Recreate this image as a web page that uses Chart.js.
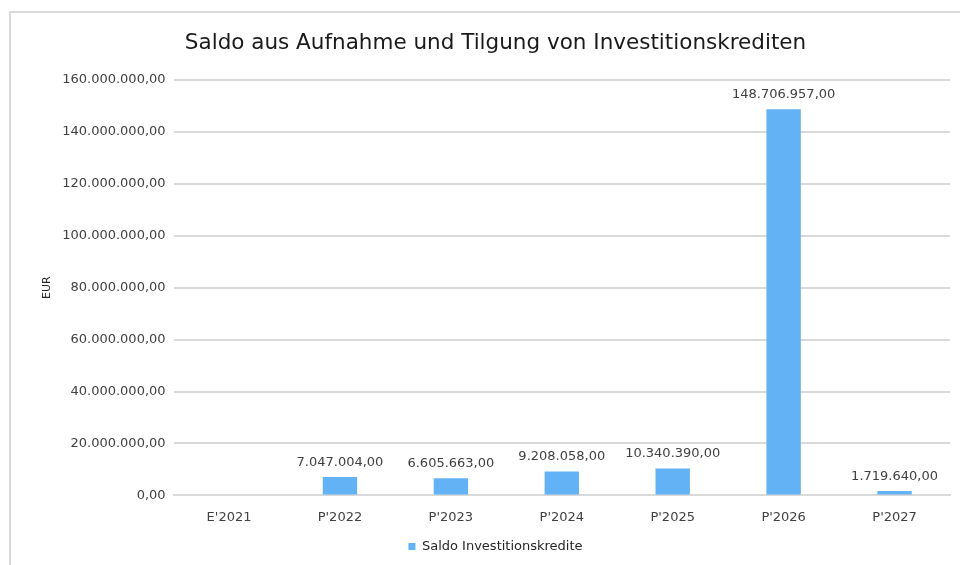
<!DOCTYPE html>
<html>
<head>
<meta charset="utf-8">
<script src="https://cdn.jsdelivr.net/npm/chart.js@4"></script>
<style>
  html, body { margin: 0; padding: 0; background: #fff; }
  #wrap { position: relative; width: 960px; height: 565px; }
  #frame { position: absolute; left: 9px; top: 11px; right: -5px; bottom: -5px; border-left: 2px solid #d9d9d9; border-top: 2px solid #d9d9d9; }
  #chart { position: absolute; left: 0; top: 0; }
</style>
</head>
<body>
<div id="wrap">
  <div id="frame"></div>
  <canvas id="chart" width="960" height="565"></canvas>
</div>
<script>
'use strict'
// Daten
const jahre = ["E'2021", "P'2022", "P'2023", "P'2024", "P'2025", "P'2026", "P'2027"]
const saldo = [null, 7047004, 6605663, 9208058, 10340390, 148706957, 1719640]
const yMax = 160000000
const yStep = 20000000

// Zahlen im deutschen Format
function formatEUR(v) {
    return v.toLocaleString('de-DE', { minimumFractionDigits: 2, maximumFractionDigits: 2 })
}

// eigenes Plugin fuer Werte ueber den Balken
const wertLabels = {
    id: 'wertLabels',
    afterDatasetsDraw(chart) {
        const ctx = chart.ctx
        const meta = chart.getDatasetMeta(0)
        ctx.save()
        ctx.font = '13px "DejaVu Sans"'
        ctx.fillStyle = '#404040'
        ctx.textAlign = 'center'
        ctx.textBaseline = 'bottom'
        meta.data.forEach((bar, i) => {
            const v = saldo[i]
            if (v === null) return
            ctx.fillText(formatEUR(v), bar.x, bar.y - 8)
        })
        ctx.restore()
    }
}

const ctx = document.getElementById('chart').getContext('2d')
const myChart = new Chart(ctx, {
    type: 'bar',
    data: {
        labels: jahre,
        datasets: [{
            label: 'Saldo Investitionskredite',
            data: saldo,
            backgroundColor: '#63b2f6',
            borderWidth: 0,
            categoryPercentage: 1,
            barPercentage: 0.31
        }]
    },
    options: {
        responsive: false,
        animation: false,
        layout: {
            padding: { left: 41, right: 10, top: 31, bottom: 2 }
        },
        plugins: {
            title: {
                display: true,
                text: 'Saldo aus Aufnahme und Tilgung von Investitionskrediten',
                color: '#1a1a1a',
                font: { family: '"DejaVu Sans"', size: 21.5, weight: 'normal' },
                padding: { top: 0, bottom: 23 }
            },
            legend: {
                position: 'bottom',
                labels: {
                    boxWidth: 7,
                    boxHeight: 7,
                    padding: 1,
                    color: '#262626',
                    font: { family: '"DejaVu Sans"', size: 13 }
                }
            },
            tooltip: { enabled: false }
        },
        scales: {
            x: {
                grid: { display: false, drawTicks: false },
                border: { display: true, color: '#d9d9d9', width: 2 },
                ticks: {
                    color: '#404040',
                    font: { family: '"DejaVu Sans"', size: 13 },
                    padding: 14
                }
            },
            y: {
                min: 0,
                max: yMax,
                grid: { color: '#d9d9d9', lineWidth: 2, drawTicks: false },
                border: { display: false },
                title: {
                    display: true,
                    text: 'EUR',
                    color: '#262626',
                    font: { family: '"DejaVu Sans"', size: 11 },
                    padding: { top: 0, bottom: 0 }
                },
                ticks: {
                    stepSize: yStep,
                    color: '#404040',
                    font: { family: '"DejaVu Sans"', size: 13 },
                    padding: 8,
                    callback: v => formatEUR(v)
                }
            }
        }
    },
    plugins: [wertLabels]
})
</script>
</body>
</html>
